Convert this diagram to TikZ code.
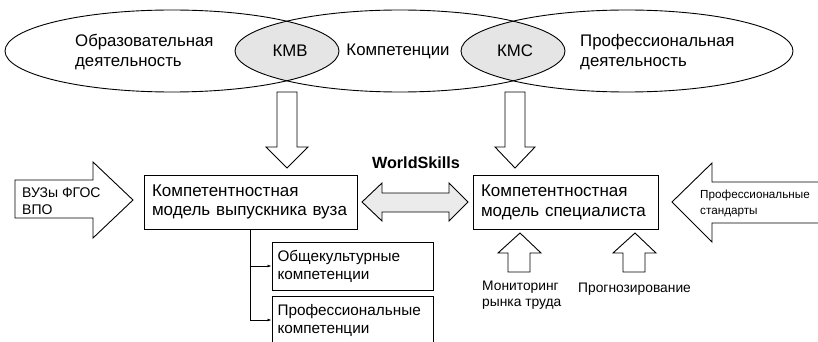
\documentclass[tikz,border=0pt]{standalone}
\usepackage{fontspec}
\setmainfont{Liberation Sans}
\usetikzlibrary{positioning}
\usetikzlibrary{arrows.meta, shapes}

\definecolor{lensgray}{gray}{0.9}
\definecolor{arrowgray}{gray}{0.92}

\begin{document}
\begin{tikzpicture}[x=1pt,y=-1pt]

\tikzset{
	big text/.style={font=\fontsize{16.8}{20}\selectfont, align=left, inner sep=0pt},
	mid text/.style={font=\fontsize{14}{17}\selectfont, align=left, inner sep=0pt},
	small text/.style={font=\fontsize{#1}{16}\selectfont, align=left, inner sep=0pt},
	small text/.default=13.8,
	model box/.style={draw, line width=1pt, minimum width=#1, minimum height=54pt,
		text width=#1-16pt, align=left, inner xsep=8pt, font=\fontsize{17}{19.5}\selectfont},
	comp box/.style={draw, line width=1pt, minimum width=161pt, minimum height=48pt,
		text width=150pt, align=left, inner xsep=5pt, font=\fontsize{15.3}{18}\selectfont},
	hollow arrow/.style={draw, line width=0.9pt, fill=white, line join=miter},
	grey arrow/.style={draw, line width=0.9pt, fill=arrowgray, line join=miter}
}

\useasboundingbox (0,0) rectangle (818,342);
\clip (0,0) rectangle (818,342);

% competence lenses
\begin{scope}
	\clip (172,51) ellipse [x radius=167, y radius=41];
	\fill[lensgray] (400,51) ellipse [x radius=165, y radius=41];
\end{scope}
\begin{scope}
	\clip (400,51) ellipse [x radius=165, y radius=41];
	\fill[lensgray] (627,51) ellipse [x radius=166, y radius=41];
\end{scope}
\draw[line width=0.9pt] (172,51) ellipse [x radius=167, y radius=41];
\draw[line width=0.9pt] (400,51) ellipse [x radius=165, y radius=41];
\draw[line width=0.9pt] (627,51) ellipse [x radius=166, y radius=41];

\node[big text, anchor=west] (obr) at (75,52) {Образовательная\\деятельность};
\node[big text] (kmv) at (290,51) {КМВ};
\node[big text] (komp) at (398,51) {Компетенции};
\node[big text] (kms) at (515,51) {КМС};
\node[big text, anchor=west] (prof) at (580,52) {Профессиональная\\деятельность};

% models
\node[model box=213pt] (vypusk) at (250.5,202) {Компетентностная\\модель выпускника вуза};
\node[model box=185pt] (spec) at (565.5,202.5) {Компетентностная\\модель специалиста};

\node[font=\bfseries\fontsize{16.2}{19}\selectfont, inner sep=0pt] (ws) at (416,163) {WorldSkills};

% down arrows from the lenses
\draw[hollow arrow] (277,92) -- (297,92) -- (297,147) -- (308,147) -- (287,168)
	-- (266,147) -- (277,147) -- cycle;
\draw[hollow arrow] (505,92) -- (525,92) -- (525,147) -- (535,147) -- (515,168)
	-- (495,147) -- (505,147) -- cycle;

% double arrow
\draw[grey arrow] (362,202) -- (382,183) -- (382,193) -- (449,193) -- (449,183)
	-- (468,202) -- (449,221) -- (449,212) -- (382,212) -- (382,221) -- cycle;

% side arrows
\draw[hollow arrow] (15,180) -- (93,180) -- (93,162) -- (133,200) -- (93,238)
	-- (93,218) -- (15,218) -- cycle;
\node[mid text, anchor=west] (vuz) at (22,201) {ВУЗы ФГОС\\ВПО};

\draw[hollow arrow] (830,182) -- (712,182) -- (712,163) -- (672,202) -- (712,242)
	-- (712,223) -- (830,223) -- cycle;
\node[small text=11.7, anchor=west] (std) at (700,203) {Профессиональные\\стандарты};

% up arrows
\draw[hollow arrow] (508,272) -- (508,253) -- (498,253) -- (520,233) -- (541,253)
	-- (530,253) -- (530,272) -- cycle;
\draw[hollow arrow] (623,272) -- (623,253) -- (613,253) -- (635,233) -- (656,253)
	-- (645,253) -- (645,272) -- cycle;
\node[small text, anchor=west] (mon) at (482,295) {Мониторинг\\рынка труда};
\node[small text, anchor=west] (prog) at (578,289) {Прогнозирование};

% competences
\node[comp box] (obshch) at (352.5,266) {Общекультурные\\компетенции};
\node[comp box] (profk) at (352.5,320) {Профессиональные\\компетенции};

\draw[line width=0.9pt, -{Latex[length=4pt,width=3pt]}] (vypusk.south) |- (obshch.west);
\draw[line width=0.9pt, -{Latex[length=4pt,width=3pt]}] (vypusk.south) |- (profk.west);

\end{tikzpicture}
\end{document}
